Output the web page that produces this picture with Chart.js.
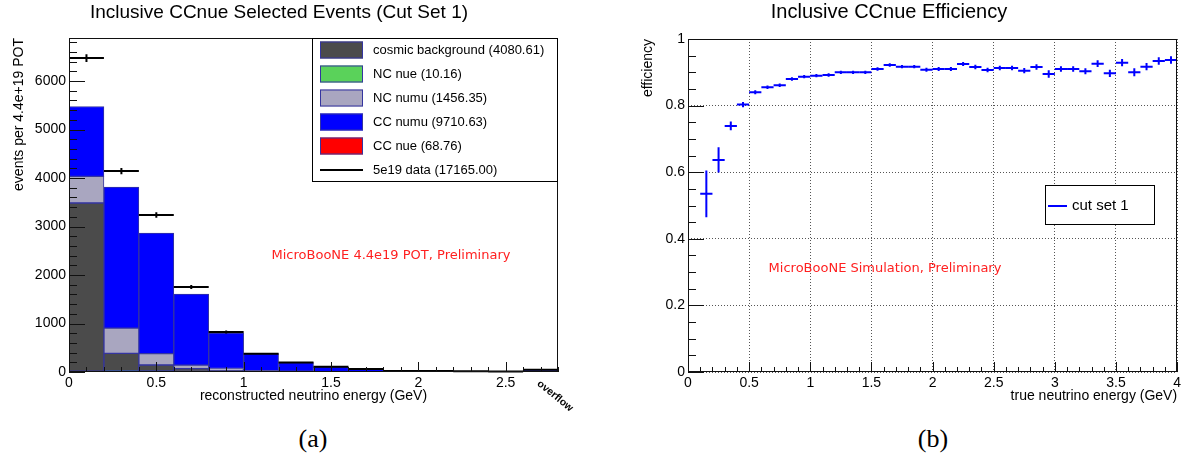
<!DOCTYPE html>
<html>
<head>
<meta charset="utf-8">
<script src="https://cdn.jsdelivr.net/npm/chart.js@4.4.0/dist/chart.umd.min.js"></script>
<style>
  body { margin:0; background:#fff; width:1184px; height:465px; position:relative; overflow:hidden; }
  #left { position:absolute; left:0; top:0; }
  #right { position:absolute; left:600px; top:0; }
  .cap { position:absolute; top:426px; width:100px; text-align:center; font:26px "Liberation Serif", "DejaVu Serif", serif; line-height:26px; color:#000; }
</style>
</head>
<body>
<canvas id="left" width="592" height="420"></canvas>
<canvas id="right" width="584" height="420"></canvas>
<div class="cap" style="left:263px">(a)</div>
<div class="cap" style="left:883px">(b)</div>
<script>
// ---- panel (a): selected events, stacked MC + data ----
const binCenters = [0.1, 0.3, 0.5, 0.7, 0.9, 1.1, 1.3, 1.5, 1.7, 1.9, 2.1, 2.3, 2.5, 2.7];
const cosmicBg   = [3470, 360, 124, 60, 28, 12, 6, 4, 3, 2, 2, 1, 1, 2];
const ncNue      = [3, 3, 2, 1, 0.5, 0.3, 0.2, 0.1, 0.06, 0, 0, 0, 0, 0];
const ncNumu     = [550, 520, 235, 70, 40, 15, 8, 4, 3, 2, 1, 1, 1, 3];
const ccNumu     = [1441, 2909, 2487, 1467, 732, 349, 177, 95, 56, 16, 15, 13, 6, 37];
const ccNue      = [12, 22, 18, 10, 4, 1.5, 0.8, 0.3, 0.1, 0.05, 0, 0, 0, 0];
const dataCounts = [6475, 4144, 3237, 1753, 825, 378, 195, 108, 62, 22, 20, 18, 10, 45];
const dataErrors = [80, 64, 57, 42, 29, 19, 14, 10, 8, 5, 4, 4, 3, 7];
const stackLabels = ['cosmic background (4080.61)', 'NC nue (10.16)', 'NC numu (1456.35)',
                     'CC numu (9710.63)', 'CC nue (68.76)'];
const dataLabel = '5e19 data (17165.00)';
const eventTicks = [0, 1000, 2000, 3000, 4000, 5000, 6000];
const recoTicks  = [0, 0.5, 1, 1.5, 2, 2.5];

// ---- panel (b): efficiency vs true energy ----
const effCenters = [0.15, 0.25, 0.35, 0.45, 0.55, 0.65, 0.75, 0.85, 0.95, 1.05,
                    1.15, 1.25, 1.35, 1.45, 1.55, 1.65, 1.75, 1.85, 1.95, 2.05,
                    2.15, 2.25, 2.35, 2.45, 2.55, 2.65, 2.75, 2.85, 2.95, 3.05,
                    3.15, 3.25, 3.35, 3.45, 3.55, 3.65, 3.75, 3.85, 3.95];
const effValues = [0.535, 0.637, 0.739, 0.803, 0.840, 0.855, 0.861, 0.880, 0.887, 0.890,
                   0.892, 0.900, 0.900, 0.900, 0.910, 0.922, 0.917, 0.917, 0.908, 0.910,
                   0.910, 0.925, 0.916, 0.907, 0.913, 0.913, 0.905, 0.916, 0.895, 0.910,
                   0.910, 0.903, 0.926, 0.897, 0.929, 0.900, 0.917, 0.934, 0.937];
const effErrors = [0.070, 0.038, 0.013, 0.008, 0.006, 0.005, 0.005, 0.005, 0.005, 0.005,
                   0.005, 0.005, 0.005, 0.005, 0.005, 0.005, 0.005, 0.005, 0.006, 0.006,
                   0.006, 0.006, 0.007, 0.007, 0.007, 0.007, 0.008, 0.008, 0.011, 0.008,
                   0.008, 0.009, 0.010, 0.011, 0.011, 0.012, 0.011, 0.011, 0.011];

const SANS = '"Liberation Sans", Arial, Helvetica, sans-serif';
const RED_FONT = '13px "DejaVu Sans", sans-serif';

// root style ticks inside the frame + frame box
const rootAxes = {
  id: 'rootAxes',
  afterDraw(chart, args, o) {
    const {ctx, chartArea: a} = chart;
    const xs = chart.scales.x, ys = chart.scales.y;
    ctx.save();
    ctx.strokeStyle = '#111';
    ctx.lineWidth = 1;
    const seg = (x1, y1, x2, y2) => { ctx.beginPath(); ctx.moveTo(x1, y1); ctx.lineTo(x2, y2); ctx.stroke(); };
    const nx = Math.floor((xs.max - xs.min) / o.xMinor + 1e-6);
    for (let i = 0; i <= nx; i++) {
      const p = Math.round(xs.getPixelForValue(xs.min + i * o.xMinor)) + 0.5;
      seg(p, a.bottom, p, a.bottom - (i % o.xPer === 0 ? o.xLen : o.xLen / 2));
    }
    const ny = Math.floor((ys.max - ys.min) / o.yMinor + 1e-6);
    for (let i = 0; i <= ny; i++) {
      const p = Math.round(ys.getPixelForValue(ys.min + i * o.yMinor)) + 0.5;
      seg(a.left, p, a.left + (i % o.yPer === 0 ? o.yLen : o.yLen / 2), p);
    }
    ctx.strokeRect(Math.round(a.left) + 0.5, Math.round(a.top) + 0.5,
                   Math.round(a.right - a.left) - 1, Math.round(a.bottom - a.top) - 1);
    ctx.restore();
  }
};

// horizontal bin bar + vertical error bar
const errorCross = {
  id: 'errorCross',
  afterDatasetsDraw(chart) {
    const {ctx, scales: {x, y}} = chart;
    chart.data.datasets.forEach(ds => {
      if (!ds.yErr) return;
      ctx.save();
      ctx.strokeStyle = ds.borderColor;
      ctx.lineWidth = ds.borderWidth;
      ds.data.forEach((pt, i) => {
        const yc = y.getPixelForValue(pt.y), xc = x.getPixelForValue(pt.x);
        ctx.beginPath();
        ctx.moveTo(x.getPixelForValue(pt.x - ds.halfWidth), yc);
        ctx.lineTo(x.getPixelForValue(pt.x + ds.halfWidth), yc);
        ctx.moveTo(xc, y.getPixelForValue(pt.y - ds.yErr[i]));
        ctx.lineTo(xc, y.getPixelForValue(pt.y + ds.yErr[i]));
        ctx.stroke();
      });
      ctx.restore();
    });
  }
};

const rootLegend = {
  id: 'rootLegend',
  afterDraw(chart, args, o) {
    const {ctx} = chart;
    const [x1, y1, x2, y2] = o.box;
    ctx.save();
    ctx.fillStyle = '#fff';
    ctx.fillRect(x1, y1, x2 - x1, y2 - y1);
    ctx.strokeStyle = '#000';
    ctx.lineWidth = 1;
    ctx.strokeRect(x1 + 0.5, y1 + 0.5, x2 - x1 - 1, y2 - y1 - 1);
    ctx.font = o.font;
    ctx.textBaseline = 'middle';
    chart.data.datasets.forEach((ds, i) => {
      const cy = o.firstY + i * o.rowH;
      if (ds.legendLine) {
        ctx.strokeStyle = ds.borderColor;
        ctx.lineWidth = 2;
        ctx.beginPath(); ctx.moveTo(o.markX1, cy); ctx.lineTo(o.markX2, cy); ctx.stroke();
      } else {
        ctx.fillStyle = ds.backgroundColor;
        ctx.fillRect(o.markX1, cy - o.markH / 2, o.markX2 - o.markX1, o.markH);
        ctx.strokeStyle = ds.borderColor;
        ctx.lineWidth = 1;
        ctx.strokeRect(o.markX1 + 0.5, cy - o.markH / 2 + 0.5, o.markX2 - o.markX1 - 1, o.markH - 1);
      }
      ctx.fillStyle = '#000';
      ctx.fillText(ds.label, o.textX, cy);
    });
    ctx.restore();
  }
};

const notes = {
  id: 'notes',
  afterDraw(chart, args, o) {
    const {ctx} = chart;
    o.items.forEach(t => {
      ctx.save();
      ctx.translate(t.x, t.y);
      ctx.rotate((t.rot || 0) * Math.PI / 180);
      ctx.font = t.font;
      ctx.fillStyle = t.color;
      ctx.textAlign = 'center';
      ctx.textBaseline = 'middle';
      ctx.fillText(t.text, 0, 0);
      ctx.restore();
    });
  }
};

const fmt = v => String(+v.toFixed(2));
const OUTLINE = '#3535a0';
const stackColors = ['#4b4b4b', '#5ad25a', '#a9a6c0', '#0000ff', '#ff0000'];
const stackValues = [cosmicBg, ncNue, ncNumu, ccNumu, ccNue];
// the two tiny nue samples go to the bottom of the stack (hidden under the axis, as in the original)
const stackOrder = [0, -1, 0, 0, -2];

const leftDatasets = stackValues.map((vals, k) => ({
  type: 'bar',
  label: stackLabels[k],
  data: binCenters.map((x, i) => ({x: x, y: vals[i]})),
  backgroundColor: stackColors[k],
  borderColor: OUTLINE,
  borderWidth: 1,
  borderSkipped: false,
  barPercentage: 1,
  categoryPercentage: 1,
  order: stackOrder[k],
  stack: 'mc'
}));
leftDatasets.push({
  type: 'scatter',
  label: dataLabel,
  data: binCenters.map((x, i) => ({x: x, y: dataCounts[i]})),
  borderColor: '#000',
  borderWidth: 2,
  pointRadius: 0,
  showLine: false,
  stack: 'data',
  yErr: dataErrors,
  halfWidth: 0.1,
  legendLine: true
});

new Chart(document.getElementById('left'), {
  type: 'bar',
  data: {datasets: leftDatasets},
  plugins: [errorCross, rootAxes, rootLegend, notes],
  options: {
    responsive: false,
    animation: false,
    layout: {padding: {left: 0, right: 34, top: 0, bottom: 0}},
    plugins: {
      legend: {display: false},
      tooltip: {enabled: false},
      title: {display: true, text: 'Inclusive CCnue Selected Events (Cut Set 1)', color: '#000',
              font: {family: SANS, size: 19, weight: 'normal'}, padding: {top: 1, bottom: 14.2}},
      rootAxes: {xMinor: 0.1, xPer: 5, xLen: 10, yMinor: 200, yPer: 5, yLen: 16},
      rootLegend: {box: [312, 38, 558, 182], firstY: 50, rowH: 24, markX1: 320, markX2: 363, markH: 17,
                   textX: 373, font: '13px ' + SANS},
      notes: {items: [
        {text: 'MicroBooNE 4.4e19 POT, Preliminary', x: 391, y: 256, font: RED_FONT, color: '#ff2020'},
        {text: 'overflow', x: 555, y: 396, rot: 39, font: 'bold 10.5px ' + SANS, color: '#000'}
      ]}
    },
    scales: {
      x: {
        type: 'linear', min: 0, max: 2.8, stacked: true, offset: false,
        grid: {display: false, drawTicks: false, offset: false}, border: {display: false},
        afterFit: s => { s.height = 48; },
        afterBuildTicks: s => { s.ticks = recoTicks.map(v => ({value: v})); },
        ticks: {padding: 3, color: '#000', maxRotation: 0, autoSkip: false,
                font: {family: SANS, size: 14}, callback: fmt},
        title: {display: true, text: 'reconstructed neutrino energy (GeV)', color: '#000',
                font: {family: SANS, size: 14}, padding: {top: 0, bottom: 15.6}}
      },
      y: {
        type: 'linear', min: 0, max: 6888, stacked: true,
        grid: {display: false, drawTicks: false}, border: {display: false},
        afterFit: s => { s.width = 69; },
        afterBuildTicks: s => { s.ticks = eventTicks.map(v => ({value: v})); },
        ticks: {padding: 3, color: '#000', autoSkip: false,
                font: {family: SANS, size: 14}, callback: v => String(v)},
        title: {display: true, text: 'events per 4.4e+19 POT', align: 'end', color: '#000',
                font: {family: SANS, size: 14}, padding: {top: 10.6, bottom: 0}}
      }
    }
  }
});

new Chart(document.getElementById('right'), {
  type: 'scatter',
  data: {datasets: [{
    label: 'cut set 1',
    data: effCenters.map((x, i) => ({x: x, y: effValues[i]})),
    borderColor: '#0000ff',
    borderWidth: 2,
    pointRadius: 0,
    showLine: false,
    yErr: effErrors,
    halfWidth: 0.05,
    legendLine: true
  }]},
  plugins: [errorCross, rootAxes, rootLegend, notes],
  options: {
    responsive: false,
    animation: false,
    layout: {padding: {left: 0, right: 6, top: 0, bottom: 0}},
    plugins: {
      legend: {display: false},
      tooltip: {enabled: false},
      title: {display: true, text: 'Inclusive CCnue Efficiency', color: '#000',
              font: {family: SANS, size: 20, weight: 'normal'}, padding: {top: 0, bottom: 15}},
      rootAxes: {xMinor: 0.1, xPer: 5, xLen: 10, yMinor: 0.05, yPer: 4, yLen: 16},
      rootLegend: {box: [445, 185, 555, 225], firstY: 206, rowH: 24, markX1: 448, markX2: 467, markH: 12,
                   textX: 472, font: '15px ' + SANS},
      notes: {items: [
        {text: 'MicroBooNE Simulation, Preliminary', x: 285, y: 269, font: RED_FONT, color: '#ff2020'}
      ]}
    },
    scales: {
      x: {
        type: 'linear', min: 0, max: 4,
        grid: {display: true, drawTicks: false, color: '#555', lineWidth: 1},
        border: {display: false, dash: [1, 2]},
        afterFit: s => { s.height = 48; },
        ticks: {stepSize: 0.5, padding: 3, color: '#000', maxRotation: 0, autoSkip: false,
                font: {family: SANS, size: 14}, callback: fmt},
        title: {display: true, text: 'true neutrino energy (GeV)', align: 'end', color: '#000',
                font: {family: SANS, size: 14}, padding: {top: 0, bottom: 15.6}}
      },
      y: {
        min: 0, max: 1,
        grid: {display: true, drawTicks: false, color: '#555', lineWidth: 1},
        border: {display: false, dash: [1, 2]},
        afterFit: s => { s.width = 88; },
        ticks: {stepSize: 0.2, padding: 3, color: '#000', font: {family: SANS, size: 14}, callback: fmt},
        title: {display: true, text: 'efficiency', align: 'end', color: '#000',
                font: {family: SANS, size: 14}, padding: {top: 39.6, bottom: 0}}
      }
    }
  }
});
</script>
</body>
</html>
